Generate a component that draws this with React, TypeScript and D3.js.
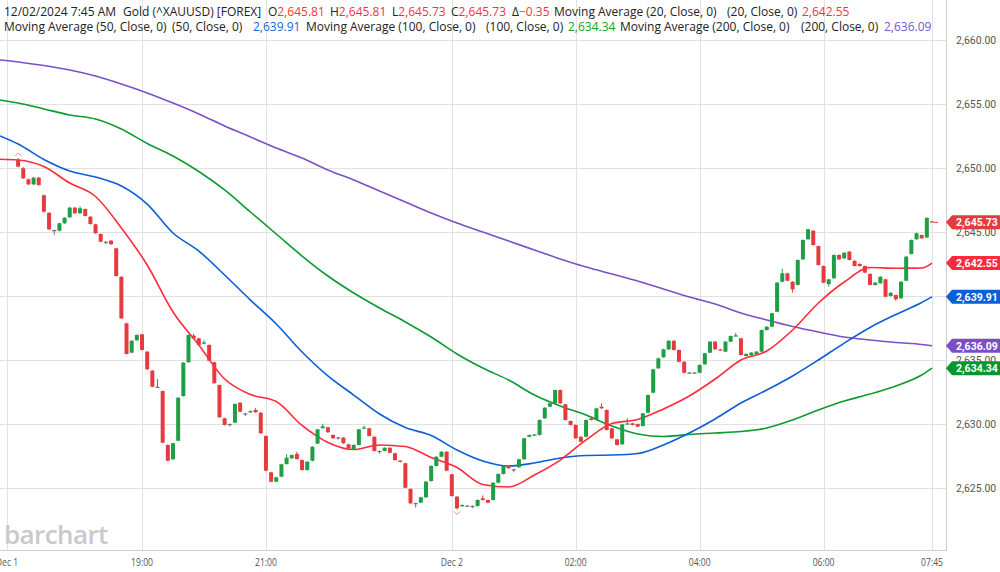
import React from "react";
import * as d3 from "d3";

const W = 1000;
const H = 572;
const PLOT_RIGHT = 947;
const PLOT_BOTTOM = 550;

// 5-minute bars, index 0 = Dec 1 17:00, index 177 = Dec 2 07:45
const opens = [
  2650.60, 2649.95, 2649.09, 2648.70, 2649.22, 2647.85, 2646.48, 2645.13, 2645.08, 2645.66,
  2646.13, 2646.88, 2646.44, 2646.77, 2646.17, 2645.58, 2644.82, 2644.22, 2644.30, 2643.70,
  2641.48, 2637.84, 2635.55, 2636.52, 2636.98, 2635.63, 2634.14, 2632.89, 2632.55, 2628.34,
  2627.22, 2628.67, 2632.16, 2634.80, 2636.88, 2636.67, 2636.25, 2636.15, 2634.80, 2633.02,
  2630.42, 2629.98, 2630.08, 2631.64, 2630.81, 2630.89, 2631.07, 2630.86, 2629.04, 2626.20,
  2625.47, 2625.86, 2626.85, 2627.30, 2627.63, 2627.16, 2626.38, 2627.11, 2628.45, 2629.65,
  2629.72, 2629.12, 2628.94, 2628.91, 2628.39, 2628.00, 2628.34, 2629.65, 2629.64, 2628.98,
  2627.87, 2627.87, 2628.12, 2627.69, 2627.11, 2626.91, 2624.90, 2623.80, 2623.83, 2624.25,
  2625.52, 2626.70, 2627.42, 2627.81, 2626.05, 2624.30, 2623.55, 2623.60, 2623.58, 2623.57,
  2624.17, 2624.04, 2624.04, 2625.39, 2626.07, 2626.70, 2626.44, 2626.60, 2627.22, 2628.98,
  2629.12, 2629.12, 2630.42, 2631.33, 2631.59, 2632.63, 2631.52, 2630.21, 2629.90, 2628.98,
  2628.98, 2630.42, 2630.29, 2631.33, 2631.07, 2629.64, 2628.78, 2628.39, 2629.98, 2630.03,
  2629.98, 2629.82, 2630.86, 2632.42, 2634.33, 2635.19, 2635.81, 2636.48, 2635.76, 2634.84,
  2633.98, 2634.00, 2633.98, 2634.64, 2635.55, 2636.41, 2635.80, 2635.63, 2636.41, 2636.85,
  2636.67, 2635.29, 2635.34, 2635.45, 2635.63, 2637.32, 2637.58, 2638.75, 2641.09, 2641.75,
  2641.09, 2640.84, 2642.84, 2644.41, 2645.08, 2643.88, 2642.32, 2640.91, 2641.36, 2643.18,
  2642.92, 2643.44, 2642.73, 2642.48, 2642.32, 2641.70, 2640.84, 2640.97, 2641.28, 2639.98,
  2640.05, 2639.80, 2641.17, 2643.26, 2644.41, 2644.74, 2644.55, 2645.81,
];
const highs = [
  2650.75, 2650.05, 2649.15, 2649.28, 2649.28, 2647.90, 2646.52, 2645.16, 2645.70, 2646.13,
  2646.93, 2646.92, 2646.98, 2646.81, 2646.21, 2645.62, 2644.86, 2644.25, 2644.34, 2643.74,
  2641.52, 2637.88, 2636.52, 2636.98, 2637.02, 2635.67, 2634.18, 2633.49, 2632.59, 2628.38,
  2628.51, 2632.07, 2634.81, 2636.97, 2637.02, 2636.71, 2636.52, 2636.19, 2634.84, 2633.06,
  2630.46, 2630.01, 2631.58, 2631.68, 2630.84, 2631.03, 2631.23, 2630.90, 2629.08, 2626.24,
  2625.85, 2626.87, 2627.61, 2627.59, 2627.81, 2627.20, 2627.07, 2628.24, 2629.60, 2630.00,
  2629.76, 2629.16, 2628.97, 2628.95, 2628.43, 2628.38, 2629.60, 2629.85, 2629.68, 2629.02,
  2627.90, 2628.16, 2628.16, 2627.73, 2627.15, 2626.95, 2624.94, 2623.83, 2624.29, 2625.51,
  2626.74, 2627.46, 2627.85, 2627.85, 2626.09, 2624.34, 2623.69, 2623.64, 2623.61, 2624.08,
  2624.40, 2624.08, 2625.43, 2626.11, 2626.74, 2626.74, 2626.47, 2627.26, 2628.90, 2629.16,
  2629.19, 2630.33, 2631.29, 2631.63, 2632.67, 2632.67, 2631.56, 2630.25, 2629.94, 2629.02,
  2630.33, 2630.46, 2631.24, 2631.60, 2631.11, 2629.68, 2628.82, 2629.99, 2630.42, 2630.07,
  2630.02, 2630.85, 2632.28, 2634.29, 2635.15, 2635.85, 2636.52, 2636.52, 2635.80, 2634.88,
  2634.04, 2634.04, 2634.63, 2635.54, 2636.45, 2636.45, 2635.84, 2636.45, 2636.89, 2637.10,
  2636.71, 2635.49, 2635.59, 2635.67, 2637.36, 2637.62, 2638.67, 2641.06, 2642.10, 2641.79,
  2641.13, 2642.83, 2644.39, 2645.23, 2645.12, 2643.92, 2642.36, 2641.32, 2643.22, 2643.22,
  2643.40, 2643.48, 2642.77, 2642.52, 2642.36, 2641.74, 2641.06, 2641.52, 2641.32, 2640.27,
  2640.09, 2641.13, 2643.09, 2644.39, 2644.92, 2644.78, 2646.12, 2645.81,
];
const lows = [
  2650.02, 2649.12, 2648.65, 2648.64, 2648.60, 2646.50, 2645.12, 2644.75, 2645.02, 2645.62,
  2646.08, 2646.40, 2646.40, 2646.19, 2645.56, 2644.84, 2644.18, 2644.02, 2643.98, 2641.50,
  2638.18, 2635.40, 2635.50, 2636.48, 2635.72, 2634.20, 2632.85, 2632.86, 2628.48, 2627.06,
  2627.18, 2628.63, 2632.12, 2634.76, 2636.63, 2636.11, 2636.21, 2634.88, 2633.12, 2630.46,
  2629.86, 2629.78, 2630.04, 2630.90, 2630.60, 2630.85, 2630.85, 2629.21, 2626.29, 2625.43,
  2625.43, 2625.82, 2626.81, 2627.26, 2627.20, 2626.34, 2626.34, 2627.07, 2628.41, 2629.61,
  2629.29, 2628.82, 2628.75, 2628.43, 2628.04, 2627.96, 2628.30, 2629.61, 2629.00, 2627.83,
  2627.65, 2627.83, 2627.69, 2627.12, 2626.99, 2624.96, 2623.74, 2623.45, 2623.79, 2624.21,
  2625.48, 2626.66, 2627.38, 2626.29, 2624.31, 2623.30, 2623.51, 2623.56, 2623.40, 2623.53,
  2624.00, 2623.79, 2624.00, 2625.35, 2626.03, 2626.48, 2626.20, 2626.56, 2627.18, 2628.94,
  2629.08, 2629.08, 2630.38, 2631.29, 2631.55, 2631.55, 2630.25, 2629.86, 2628.82, 2628.55,
  2628.94, 2630.25, 2630.25, 2631.16, 2629.47, 2628.82, 2628.30, 2628.35, 2629.94, 2629.86,
  2629.73, 2629.78, 2630.82, 2632.38, 2634.29, 2635.15, 2635.77, 2635.72, 2634.80, 2633.94,
  2633.94, 2633.96, 2633.94, 2634.60, 2635.51, 2635.77, 2635.72, 2635.59, 2636.37, 2636.81,
  2635.33, 2635.25, 2635.30, 2635.41, 2635.59, 2637.28, 2637.54, 2638.71, 2641.05, 2641.13,
  2640.25, 2640.80, 2642.80, 2644.37, 2643.92, 2642.36, 2640.98, 2640.70, 2641.32, 2642.80,
  2642.88, 2642.75, 2642.28, 2642.28, 2641.76, 2640.80, 2640.80, 2640.93, 2639.88, 2639.94,
  2639.60, 2639.76, 2641.13, 2643.22, 2644.37, 2644.44, 2644.51, 2645.73,
];
const closes = [
  2650.08, 2649.17, 2648.70, 2649.22, 2648.65, 2646.56, 2645.19, 2645.13, 2645.66, 2646.09,
  2646.88, 2646.44, 2646.83, 2646.23, 2645.60, 2644.88, 2644.22, 2644.22, 2644.02, 2641.54,
  2638.23, 2635.45, 2636.48, 2636.93, 2635.76, 2634.25, 2632.89, 2632.89, 2628.52, 2627.11,
  2628.47, 2632.03, 2634.77, 2636.93, 2636.67, 2636.15, 2636.35, 2634.92, 2633.16, 2630.50,
  2629.90, 2629.98, 2631.54, 2630.94, 2630.81, 2630.99, 2630.89, 2629.25, 2626.33, 2625.47,
  2625.81, 2626.83, 2627.34, 2627.55, 2627.24, 2626.38, 2627.03, 2628.20, 2629.56, 2629.80,
  2629.33, 2628.86, 2628.94, 2628.47, 2628.08, 2628.34, 2629.56, 2629.70, 2629.04, 2627.87,
  2627.87, 2628.12, 2627.73, 2627.16, 2627.03, 2625.00, 2623.78, 2623.80, 2624.25, 2625.47,
  2626.70, 2627.42, 2627.81, 2626.33, 2624.35, 2623.39, 2623.65, 2623.60, 2623.58, 2624.04,
  2624.04, 2623.83, 2625.39, 2626.07, 2626.70, 2626.52, 2626.44, 2627.22, 2628.86, 2629.12,
  2629.15, 2630.29, 2631.25, 2631.59, 2632.63, 2631.59, 2630.29, 2629.90, 2628.86, 2628.59,
  2630.29, 2630.29, 2631.20, 2631.20, 2629.51, 2628.86, 2628.34, 2629.95, 2630.02, 2629.90,
  2629.77, 2630.81, 2632.24, 2634.25, 2635.11, 2635.81, 2636.48, 2635.76, 2634.84, 2633.98,
  2634.00, 2634.00, 2634.59, 2635.50, 2636.41, 2635.81, 2635.76, 2636.41, 2636.85, 2636.90,
  2635.37, 2635.45, 2635.55, 2635.63, 2637.32, 2637.58, 2638.63, 2641.02, 2641.75, 2641.17,
  2640.50, 2642.79, 2644.35, 2645.19, 2643.96, 2642.40, 2641.02, 2641.28, 2643.18, 2642.84,
  2643.36, 2642.79, 2642.32, 2642.32, 2641.80, 2640.84, 2641.02, 2641.48, 2639.92, 2640.23,
  2639.72, 2641.09, 2643.05, 2644.35, 2644.88, 2644.48, 2646.08, 2645.73,
];

// moving averages at these bar positions
const maBars = [
  -3.5, 0, 5, 10, 15, 20, 25, 30, 35, 40, 45, 50, 55, 60, 65, 70, 75, 80, 85, 90,
  95, 100, 105, 110, 115, 120, 125, 130, 135, 140, 145, 150, 155, 160, 165, 170, 175, 177,
];
const ma20 = [
  2650.66, 2650.60, 2650.09, 2648.80, 2647.75, 2645.29, 2642.40, 2638.73, 2636.15, 2633.49,
  2632.28, 2631.73, 2629.86, 2628.53, 2627.98, 2628.34, 2628.22, 2627.36, 2626.58, 2625.25,
  2625.05, 2625.99, 2627.16, 2628.73, 2630.02, 2630.33, 2631.15, 2632.16, 2633.49, 2634.98,
  2635.68, 2637.32, 2639.43, 2641.07, 2642.20, 2642.15, 2642.16, 2642.55,
];
const ma50 = [
  2652.48, 2651.85, 2650.64, 2649.74, 2649.27, 2648.57, 2647.16, 2644.90, 2643.49, 2641.62,
  2639.66, 2637.79, 2635.60, 2633.73, 2632.24, 2630.76, 2629.70, 2629.08, 2627.95, 2627.09,
  2626.70, 2626.93, 2627.32, 2627.52, 2627.55, 2627.67, 2628.34, 2629.27, 2630.37, 2631.62,
  2632.63, 2633.73, 2634.98, 2636.30, 2637.52, 2638.53, 2639.47, 2639.91,
];
const ma100 = [
  2655.29, 2655.05, 2654.59, 2654.12, 2653.80, 2653.02, 2651.89, 2650.91, 2649.70, 2648.26,
  2646.54, 2644.82, 2643.10, 2641.54, 2640.21, 2639.04, 2637.95, 2636.77, 2635.45, 2634.35,
  2633.41, 2632.24, 2631.38, 2630.68, 2629.82, 2629.20, 2629.00, 2629.16, 2629.27, 2629.39,
  2629.66, 2630.29, 2631.07, 2631.77, 2632.32, 2632.95, 2633.80, 2634.34,
];
const ma200 = [
  2658.41, 2658.26, 2657.98, 2657.63, 2657.16, 2656.54, 2655.84, 2655.05, 2654.20, 2653.26,
  2652.40, 2651.54, 2650.76, 2649.82, 2649.04, 2648.18, 2647.32, 2646.46, 2645.68, 2644.98,
  2644.27, 2643.57, 2642.87, 2642.24, 2641.70, 2641.15, 2640.52, 2639.90, 2639.35, 2638.65,
  2638.10, 2637.59, 2637.16, 2636.77, 2636.54, 2636.34, 2636.19, 2636.09,
];

const priceTicks = [2625, 2630, 2635, 2640, 2645, 2650, 2655, 2660];
const timeTickBars = [-2.15, 24, 48, 84, 108, 132, 156, 177];
const timeTickLabels = ["Dec 1", "19:00", "21:00", "Dec 2", "02:00", "04:00", "06:00", "07:45"];

const GREEN = "#1e9e45";
const RED = "#e63a3f";
const DOJI = "#707070";
const C_MA20 = "#ff2b3b";
const C_MA50 = "#0b5fd6";
const C_MA100 = "#0c9a31";
const C_MA200 = "#7b50c8";

const fmt = d3.format(",.2f");

export default function App() {
  const x = d3.scaleLinear().domain([0, 177]).range([18.1, 932]);
  const y = d3.scaleLinear().domain([2625, 2660]).range([487.7, 39.7]);
  const n = closes.length;
  const last = n - 1;

  const maLine = (vals: number[]) =>
    d3
      .line<number>()
      .x((_, i) => x(maBars[i]))
      .y((v) => y(v))
      .curve(d3.curveMonotoneX)(vals) || "";

  const mas = [
    { vals: ma200, color: C_MA200 },
    { vals: ma100, color: C_MA100 },
    { vals: ma50, color: C_MA50 },
    { vals: ma20, color: C_MA20 },
  ];

  const tags = [
    { v: ma100[ma100.length - 1], color: "#0a962e" },
    { v: ma200[ma200.length - 1], color: "#7a4fc6" },
    { v: ma50[ma50.length - 1], color: "#0a5fd6" },
    { v: ma20[ma20.length - 1], color: "#ff2a3c" },
    { v: closes[last], color: "#e33b3e" },
  ];

  const delta = closes[last] - closes[last - 1];
  const headerFont = { fontFamily: "'Open Sans', sans-serif", fontSize: 12 };
  const HR = "#f5333f";

  return (
    <svg
      width={W}
      height={H}
      viewBox={`0 0 ${W} ${H}`}
      style={{ position: "absolute", left: 0, top: 0, background: "#fff" }}
    >
      <defs>
        <clipPath id="plot">
          <rect x={0} y={0} width={PLOT_RIGHT} height={PLOT_BOTTOM} />
        </clipPath>
      </defs>
      {/* grid */}
      {priceTicks.map((p) => (
        <line key={"h" + p} x1={0} x2={PLOT_RIGHT} y1={Math.round(y(p)) + 0.5} y2={Math.round(y(p)) + 0.5} stroke="#e2e2e2" />
      ))}
      {timeTickBars.map((b) => (
        <line key={"v" + b} x1={Math.round(x(b)) + 0.5} x2={Math.round(x(b)) + 0.5} y1={0} y2={PLOT_BOTTOM} stroke="#e2e2e2" />
      ))}
      {/* watermark */}
      <text x={4} y={544} fill="#c9c9c9" style={{ fontFamily: "'Open Sans', sans-serif", fontSize: 26, fontWeight: 600, letterSpacing: -0.6 }}>
        barchart
      </text>
      <g clipPath="url(#plot)">
        {mas.map((m, k) => (
          <path key={k} d={maLine(m.vals)} fill="none" stroke={m.color} strokeWidth={1.6} />
        ))}
        {closes.map((c, i) => {
          const o = opens[i];
          const cx = x(i);
          const col = c === o ? DOJI : c > o ? GREEN : RED;
          const top = y(Math.max(o, c));
          const bot = y(Math.min(o, c));
          return (
            <g key={i}>
              <line x1={cx} x2={cx} y1={y(highs[i])} y2={y(lows[i])} stroke={col} strokeWidth={1} />
              <rect x={cx - 2} y={top} width={4} height={Math.max(1.2, bot - top)} fill={col} />
            </g>
          );
        })}
        {/* high / low markers */}
        <path
          d={`M${x(0) - 3},${y(highs[0]) - 2} L${x(0)},${y(highs[0]) - 5} L${x(0) + 3},${y(highs[0]) - 2}`}
          fill="none"
          stroke="#f08a8a"
          strokeWidth={1}
        />
        <path
          d={`M${x(85) - 3},${y(lows[85]) + 2} L${x(85)},${y(lows[85]) + 5} L${x(85) + 3},${y(lows[85]) + 2}`}
          fill="none"
          stroke="#f08a8a"
          strokeWidth={1}
        />
        {/* last price dash */}
        <line x1={x(last) + 2} x2={x(last) + 6} y1={y(closes[last])} y2={y(closes[last])} stroke={RED} strokeWidth={1} />
      </g>
      {/* axes frame */}
      <line x1={PLOT_RIGHT - 0.5} x2={PLOT_RIGHT - 0.5} y1={0} y2={PLOT_BOTTOM} stroke="#cfcfcf" />
      <line x1={0} x2={PLOT_RIGHT} y1={PLOT_BOTTOM + 0.5} y2={PLOT_BOTTOM + 0.5} stroke="#cfcfcf" />
      {/* right axis labels */}
      {priceTicks.map((p) => (
        <text key={"pl" + p} x={956} y={y(p) + 4} fill="#555" style={{ fontFamily: "Roboto, sans-serif", fontSize: 10.5 }}>
          {fmt(p)}
        </text>
      ))}
      {/* bottom axis labels */}
      {timeTickBars.map((b, i) => (
        <text
          key={"tl" + b}
          transform={`translate(${x(b)},566) scale(0.78,1)`}
          textAnchor="middle"
          fill="#555"
          style={{ fontFamily: "'Open Sans', sans-serif", fontSize: 11 }}
        >
          {timeTickLabels[i]}
        </text>
      ))}
      {/* price tags */}
      {tags.map((t, i) => {
        const yc = y(t.v);
        return (
          <g key={"tag" + i}>
            <path d={`M946,${yc} L952,${yc - 7} L1000,${yc - 7} L1000,${yc + 7} L952,${yc + 7} Z`} fill={t.color} />
            <text x={956} y={yc + 4} fill="#fff" style={{ fontFamily: "Roboto, sans-serif", fontSize: 10.5, fontWeight: 700 }}>
              {fmt(t.v)}
            </text>
          </g>
        );
      })}
      {/* header line 1 */}
      <text y={16} fill="#222" style={headerFont}>
        <tspan x={4}>12/02/2024 7:45 AM</tspan>
        <tspan x={123}>Gold (^XAUUSD) [FOREX]</tspan>
        <tspan x={268}>O</tspan>
        <tspan fill={HR}>{fmt(opens[last])}</tspan>
        <tspan x={330}>H</tspan>
        <tspan fill={HR}>{fmt(highs[last])}</tspan>
        <tspan x={392}>L</tspan>
        <tspan fill={HR}>{fmt(lows[last])}</tspan>
        <tspan x={451}>C</tspan>
        <tspan fill={HR}>{fmt(closes[last])}</tspan>
        <tspan x={512}>Δ</tspan>
        <tspan fill={HR}>{d3.format(".2f")(delta)}</tspan>
        <tspan x={554}>Moving Average (20, Close, 0)</tspan>
        <tspan x={727}>(20, Close, 0)</tspan>
        <tspan x={802} fill={HR}>{fmt(ma20[ma20.length - 1])}</tspan>
      </text>
      {/* header line 2 */}
      <text y={31} fill="#222" style={headerFont}>
        <tspan x={4}>Moving Average (50, Close, 0)</tspan>
        <tspan x={172}>(50, Close, 0)</tspan>
        <tspan x={253} fill="#1a66d6">{fmt(ma50[ma50.length - 1])}</tspan>
        <tspan x={306}>Moving Average (100, Close, 0)</tspan>
        <tspan x={486}>(100, Close, 0)</tspan>
        <tspan x={568} fill="#12a12b">{fmt(ma100[ma100.length - 1])}</tspan>
        <tspan x={620}>Moving Average (200, Close, 0)</tspan>
        <tspan x={801}>(200, Close, 0)</tspan>
        <tspan x={884} fill="#7a57d1">{fmt(ma200[ma200.length - 1])}</tspan>
      </text>
    </svg>
  );
}
